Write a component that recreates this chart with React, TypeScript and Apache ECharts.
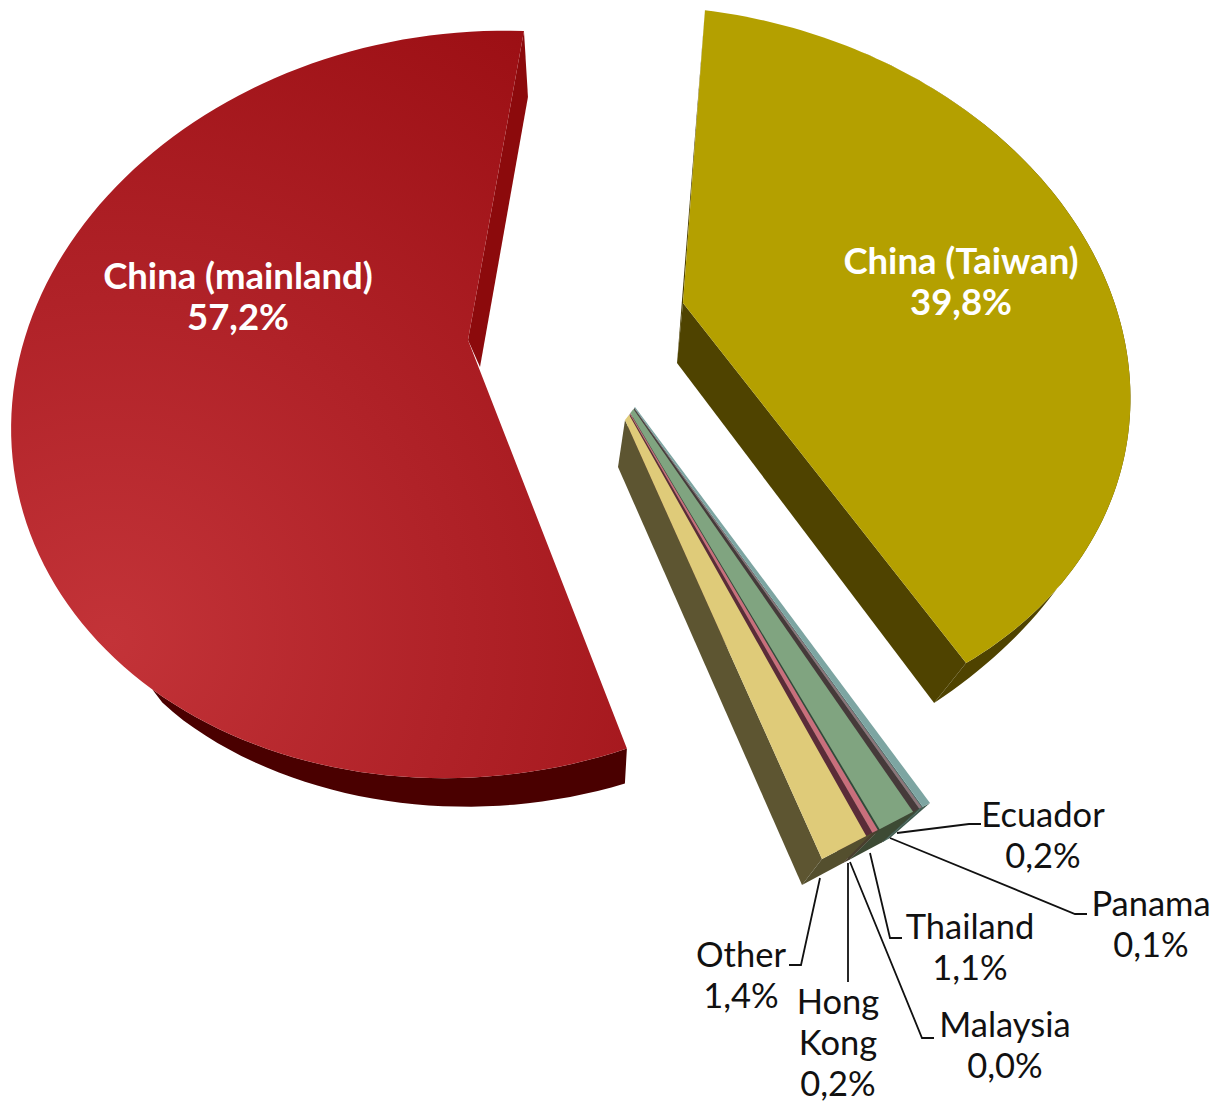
import React, { useEffect, useRef } from "react";
import * as echarts from "echarts";

// Slices in clockwise order, starting at the top edge of the Taiwan wedge.
const categories = ["China (Taiwan)", "Ecuador", "Panama", "Thailand", "Malaysia", "Hong Kong", "Other", "China (mainland)"];
const shares = [39.8, 0.2, 0.1, 1.1, 0.0, 0.2, 1.4, 57.2];
const faceColors = ["#b4a000", "#7da5a2", "#8d767a", "#80a480", "#b0b0b0", "#c96f7c", "#dfcb79", "#a51a20"];
const wallColors = ["#4f4300", "#4e6f6b", "#463a3a", "#2e4b3a", "#555555", "#5a2c38", "#5d5531", "#4a0000"];
const frontColors = ["#4f4300", "#3f5a4e", "#3f5a4e", "#3d4a34", "#555555", "#4a3f2e", "#544f2e", "#4a0000"];
const faceInsets = [0, 0, 0.03, 0.17, 0, 0.05, 0.17, 0];

const W = 1217;
const H = 1102;
const START_ANGLE = 7;
const FONT = "Lato";

type Pt = [number, number];
type Frame = { cx: number; cy: number; a: number; b: number; c: number; d: number; g: number; h: number };

// Perspective frames that carry the unit pie circle onto the tilted top faces.
const redFrame: Frame = { cx: 470.7, cy: 394.4, a: 459.4, b: 11.13, c: -28.6, d: -361.8, g: -0.00744, h: 0.0274 };
const yellowFrame: Frame = { cx: 683, cy: 310, a: 470, b: 78.4, c: 18.4, d: -302.6, g: 0.03, h: 0.158 };

const project = (f: Frame, deg: number): Pt => {
  const r = (deg * Math.PI) / 180;
  const u = Math.sin(r);
  const v = Math.cos(r);
  const w = 1 + f.g * u + f.h * v;
  return [(f.cx + f.a * u + f.b * v) / w, (f.cy + f.c * u + f.d * v) / w];
};

const lerp = (p: Pt, q: Pt, t: number): Pt => [p[0] + (q[0] - p[0]) * t, p[1] + (q[1] - p[1]) * t];
const add = (p: Pt, q: Pt): Pt => [p[0] + q[0], p[1] + q[1]];

const sampleArc = (f: Frame, from: number, to: number): Pt[] => {
  const n = 120;
  return Array.from({ length: n + 1 }, (_, i) => project(f, from + ((to - from) * i) / n));
};

const poly = (points: Pt[], fill: any) => ({ type: "polygon", shape: { points }, style: { fill, stroke: "none" } });

// Cumulative share at the start of each slice, in percent.
const cumulative = shares.reduce<number[]>((acc, v, i) => {
  acc.push(i === 0 ? 0 : acc[i - 1] + shares[i - 1]);
  return acc;
}, []);
const angleOf = (percent: number) => START_ANGLE + percent * 3.6;

const smallFrom = cumulative[1];
const smallTotal = shares.slice(1, 7).reduce((s, v) => s + v, 0);

// The narrow slices are drawn as a fan between two rim ends.
const fanRim: [Pt, Pt] = [[930, 803], [822, 859]];
const fanRimLow: [Pt, Pt] = [[890, 838], [802, 885]];
const fanApex: [Pt, Pt] = [[635, 407], [625, 420]];
const fanApexLow: [Pt, Pt] = [[630, 440], [618, 467]];

const labelAnchors: Record<string, Pt> = {
  "China (mainland)": [238, 295],
  "China (Taiwan)": [961, 280],
  Ecuador: [1043, 834],
  Panama: [1151, 923],
  Thailand: [970, 946],
  Malaysia: [1005, 1044],
  "Hong Kong": [838, 1041],
  Other: [741, 974],
};

const leaders: Record<string, Pt[]> = {
  Ecuador: [[897, 833], [969, 824], [981, 824]],
  Panama: [[890, 838], [1075, 914], [1087, 914]],
  Thailand: [[870, 853], [890, 938], [902, 938]],
  Malaysia: [[850, 862], [922, 1038], [934, 1038]],
  "Hong Kong": [[848, 863], [848, 982]],
  Other: [[820, 878], [801, 965], [789, 965]],
};

const percentText = (v: number) => v.toFixed(1).replace(".", ",") + "%";

const labelFor = (i: number) => {
  const name = categories[i];
  const big = i === 0 || i === 7;
  const [x, y] = labelAnchors[name];
  const text = (name === "Hong Kong" ? "Hong\nKong" : name) + "\n" + percentText(shares[i]);
  return {
    type: "text",
    x,
    y,
    style: {
      text,
      fill: big ? "#ffffff" : "#111111",
      fontFamily: FONT,
      fontSize: big ? 36.5 : 34.5,
      fontWeight: big ? "bold" : "normal",
      lineHeight: 41,
      align: "center",
      verticalAlign: "middle",
    },
  };
};

const redGradient = () =>
  new echarts.graphic.RadialGradient(
    110,
    640,
    760,
    [
      { offset: 0, color: "#c33338" },
      { offset: 0.45, color: "#b02228" },
      { offset: 1, color: "#9b0e13" },
    ],
    true
  );

const drawRed = (i: number) => {
  const from = angleOf(cumulative[i]);
  const to = from + shares[i] * 3.6;
  // Sweep from the slice's top edge counter-clockwise through the left side.
  const top = sampleArc(redFrame, to, from);
  const startTop = top[0];
  // The outer wall only shows along the lower rim and thickens towards the front.
  const low = top.map((p, k) => {
    const s = Math.max(0, (k / (top.length - 1) - 0.7) / 0.3) ** 0.5;
    return add(p, [-2 * s, 35 * s]);
  });
  return [
    poly([...top, ...low.slice().reverse()], wallColors[i]),
    poly([startTop, add(startTop, [4, 66]), [480, 367], [468, 340]], "#8c0a0c"),
    poly([[468, 340], ...top], redGradient()),
  ];
};

const drawYellow = (i: number) => {
  const from = angleOf(cumulative[i]);
  const to = from + shares[i] * 3.6;
  const top = sampleArc(yellowFrame, from, to);
  const end = top[top.length - 1];
  const low = top.map((p, k) => {
    const s = (k / (top.length - 1)) ** 4;
    return add(p, [-32 * s, 40 * s]);
  });
  return [
    poly([...top, ...low.slice().reverse()], wallColors[i]),
    poly([end, add(end, [-32, 40]), [677, 363], [683, 303]], wallColors[i]),
    poly([top[0], [683, 303], [677, 363]], "#4a3f00"),
    poly([[683, 303], ...top], faceColors[i]),
  ];
};

const drawFanSlice = (i: number) => {
  const v = shares[i];
  const children: any[] = [];
  const tR = (cumulative[i] - smallFrom) / smallTotal;
  const tL = (cumulative[i] + v - smallFrom) / smallTotal;
  const tFace = (cumulative[i] + Math.min(faceInsets[i], v) - smallFrom) / smallTotal;
  if (v > 0) {
    const rimL = lerp(fanRim[0], fanRim[1], tL);
    const rimLowL = lerp(fanRimLow[0], fanRimLow[1], tL);
    const rimR = lerp(fanRim[0], fanRim[1], tR);
    const rimLowR = lerp(fanRimLow[0], fanRimLow[1], tR);
    const apexL = lerp(fanApex[0], fanApex[1], tL);
    const apexLowL = lerp(fanApexLow[0], fanApexLow[1], tL);
    children.push(poly([apexL, rimL, rimLowL, apexLowL], wallColors[i]));
    children.push(poly([rimL, rimR, rimLowR, rimLowL], frontColors[i]));
    children.push(
      poly([apexL, rimL, lerp(fanRim[0], fanRim[1], tFace), lerp(fanApex[0], fanApex[1], tFace)], faceColors[i])
    );
  }
  return children;
};

const drawLeader = (name: string) =>
  leaders[name]
    ? [{ type: "polyline", shape: { points: leaders[name] }, style: { stroke: "#111111", lineWidth: 1.8, fill: "none" } }]
    : [];

const renderItem = (params: any) => {
  const i = params.dataIndex as number;
  let children: any[];
  if (i === 7) children = drawRed(i);
  else if (i === 0) children = drawYellow(i);
  else children = drawFanSlice(i);
  return { type: "group", children: [...children, ...drawLeader(categories[i])] };
};

// Labels sit in their own pass so no wedge can paint over them.
const renderLabel = (params: any) => labelFor(params.dataIndex as number);

export default function App() {
  const ref = useRef<HTMLDivElement>(null);
  useEffect(() => {
    if (!ref.current) return;
    const chart = echarts.init(ref.current, undefined, { renderer: "svg", width: W, height: H });
    chart.setOption({
      animation: false,
      backgroundColor: "#ffffff",
      tooltip: { show: false },
      series: [
        {
          type: "custom",
          coordinateSystem: "none",
          silent: true,
          clip: false,
          renderItem,
          data: shares.map((v, i) => ({ name: categories[i], value: v })),
        },
        {
          type: "custom",
          coordinateSystem: "none",
          silent: true,
          clip: false,
          z: 5,
          renderItem: renderLabel,
          data: shares.map((v, i) => ({ name: categories[i], value: v })),
        },
      ],
    });
    return () => chart.dispose();
  }, []);
  return <div ref={ref} style={{ position: "absolute", left: 0, top: 0, width: W, height: H }} />;
}
